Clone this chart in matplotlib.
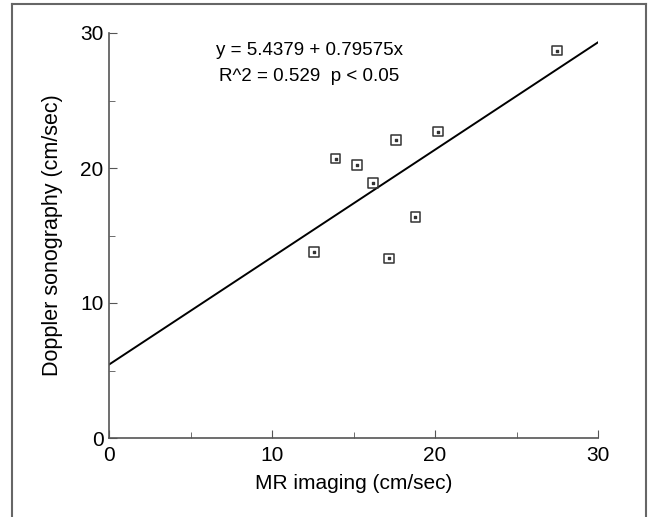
import matplotlib.pyplot as plt
import numpy as np
from matplotlib.lines import Line2D

plt.rcParams['font.family'] = ['Liberation Sans', 'DejaVu Sans']

# MR imaging vs Doppler sonography velocities (cm/sec)
mr_imaging = [12.6, 13.9, 15.2, 16.2, 17.2, 17.6, 18.8, 20.2, 27.5]
doppler = [13.8, 20.7, 20.2, 18.9, 13.3, 22.1, 16.4, 22.7, 28.7]

intercept = 5.4379
slope = 0.79575

fig = plt.figure(figsize=(6.48, 5.17), dpi=100)
ax = fig.add_axes([109 / 648, 1 - 438 / 517, 489 / 648, 405 / 517])

# regression line
xs = np.array([0, 30])
ax.plot(xs, intercept + slope * xs, color='black', linewidth=1.4)

# square markers with a dot in the middle
ax.scatter(mr_imaging, doppler, marker='s', s=50, facecolors='none',
           edgecolors='#333333', linewidths=1.1, zorder=3)
ax.scatter(mr_imaging, doppler, marker='s', s=2, color='#333333', zorder=4)

ax.text(12.3, 28.7, 'y = 5.4379 + 0.79575x', fontsize=13.5, ha='center', va='center')
ax.text(12.3, 26.8, 'R^2 = 0.529  p < 0.05', fontsize=13.5, ha='center', va='center')

ax.set_xlim(0, 30)
ax.set_ylim(0, 30)
ax.set_xticks([0, 10, 20, 30])
ax.set_yticks([0, 10, 20, 30])
ax.set_xticks([5, 15, 25], minor=True)
ax.set_yticks([5, 15, 25], minor=True)
ax.tick_params(which='both', direction='in', labelsize=15, color='#555555')
ax.tick_params(which='major', length=6)
ax.tick_params(which='minor', length=4)
ax.tick_params(axis='x', pad=6)
ax.tick_params(axis='y', pad=4)
ax.spines['top'].set_visible(False)
ax.spines['right'].set_visible(False)
for s in ['left', 'bottom']:
    ax.spines[s].set_color('#555555')
    ax.spines[s].set_linewidth(1.2)

ax.set_xlabel('MR imaging (cm/sec)', fontsize=15, labelpad=6)
ax.set_ylabel('Doppler sonography (cm/sec)', fontsize=15.5, labelpad=12)

# outer frame of the figure
frame_kw = dict(color='#666666', linewidth=1.5, transform=fig.transFigure)
fig.add_artist(Line2D([12 / 648, 12 / 648], [0, 1 - 4 / 517], **frame_kw))
fig.add_artist(Line2D([12 / 648, 646 / 648], [1 - 4 / 517, 1 - 4 / 517], **frame_kw))
fig.add_artist(Line2D([646 / 648, 646 / 648], [0, 1 - 4 / 517], **frame_kw))

fig.savefig('out.png', dpi=100)
